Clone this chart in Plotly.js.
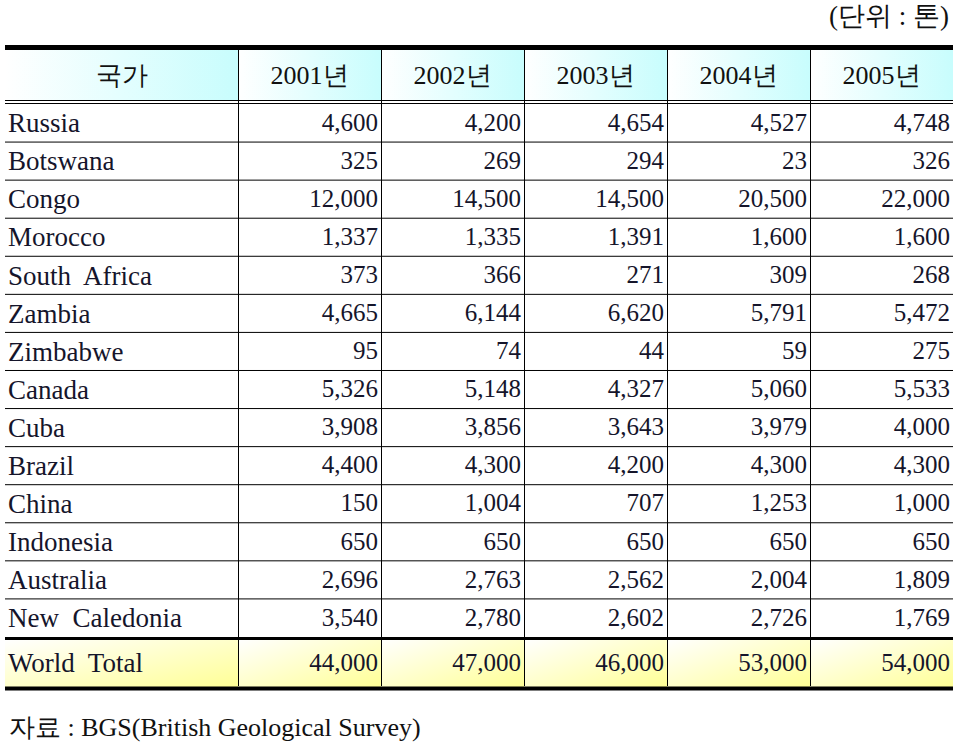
<!DOCTYPE html>
<html>
<head>
<meta charset="utf-8">
<script src="https://cdn.plot.ly/plotly-3.0.1.min.js"></script>
<style>html,body{margin:0;padding:0;background:#fff;}#chart{width:971px;height:747px;}</style>
</head>
<body>
<div id="chart"></div>
<script>
var headers = ["국가", "2001년", "2002년", "2003년", "2004년", "2005년"];
var countries = ["Russia", "Botswana", "Congo", "Morocco", "South  Africa", "Zambia", "Zimbabwe", "Canada", "Cuba", "Brazil", "China", "Indonesia", "Australia", "New  Caledonia"];
var y2001 = ["4,600", "325", "12,000", "1,337", "373", "4,665", "95", "5,326", "3,908", "4,400", "150", "650", "2,696", "3,540"];
var y2002 = ["4,200", "269", "14,500", "1,335", "366", "6,144", "74", "5,148", "3,856", "4,300", "1,004", "650", "2,763", "2,780"];
var y2003 = ["4,654", "294", "14,500", "1,391", "271", "6,620", "44", "4,327", "3,643", "4,200", "707", "650", "2,562", "2,602"];
var y2004 = ["4,527", "23", "20,500", "1,600", "309", "5,791", "59", "5,060", "3,979", "4,300", "1,253", "650", "2,004", "2,726"];
var y2005 = ["4,748", "326", "22,000", "1,600", "268", "5,472", "275", "5,533", "4,000", "4,300", "1,000", "650", "1,809", "1,769"];
var totalLabel = "World  Total";
var totals = ["44,000", "47,000", "46,000", "53,000", "54,000"];
var unitNote = "(단위 : 톤)";
var sourceNote = "자료 : BGS(British Geological Survey)";

var W = 971, H = 747;
var x0 = 5, x1 = 953;
function px(x){ return x / W; }
function py(y){ return 1 - y / H; }
var FONT = "Liberation Serif";
var colW = [233, 143, 143, 143, 143, 143];        // grid columns
var textColW = [243, 143, 143, 143, 143, 143];    // text columns (shifted to match text insets)
var tx0 = 0, tx1 = 958;
var align = ["left", "right", "right", "right", "right", "right"];
var sizes = [27, 25, 25, 25, 25, 25];
var CLEAR = "rgba(0,0,0,0)";
var TXT = "#15152b";
var rowH = 38.07;

function gradientRow(c1, c2, diag, hgt){
  var tot = colW.reduce(function(a,b){return a+b;}, 0);
  var defs = '<linearGradient id="g" x1="0" y1="0" x2="1" y2="' + (diag ? 1 : 0) + '">' +
    '<stop offset="0" stop-color="' + c1 + '"/><stop offset="1" stop-color="' + c2 + '"/></linearGradient>';
  var rects = '', acc = 0;
  colW.forEach(function(w){
    rects += '<rect x="' + acc + '" y="0" width="' + w + '" height="' + hgt + '" fill="url(#g)"/>';
    acc += w;
  });
  var svg = '<svg xmlns="http://www.w3.org/2000/svg" width="' + tot + '" height="' + hgt + '" viewBox="0 0 ' + tot + ' ' + hgt + '" preserveAspectRatio="none"><defs>' + defs + '</defs>' + rects + '</svg>';
  return 'data:image/svg+xml;base64,' + btoa(unescape(encodeURIComponent(svg)));
}

var emptyCells = {values: [[], [], [], [], [], []], height: 1, line: {color: CLEAR, width: 0}, fill: {color: CLEAR}};

var headRow = {
  type: "table",
  domain: {x: [px(x0), px(x1)], y: [py(120), py(56)]},
  columnwidth: colW,
  header: {
    values: headers,
    height: 46,
    align: "center",
    fill: {color: CLEAR},
    line: {color: CLEAR, width: 0},
    font: {family: FONT, size: [26, 26, 26, 26, 26, 26], color: "#111"}
  },
  cells: emptyCells
};

var main = {
  type: "table",
  domain: {x: [px(tx0), px(tx1)], y: [py(660), py(104)]},
  columnwidth: textColW,
  header: {
    values: ["", "", "", "", "", ""],
    height: 0.01,
    fill: {color: CLEAR},
    line: {color: CLEAR, width: 0},
    font: {family: FONT, size: 1, color: CLEAR}
  },
  cells: {
    values: [countries, y2001, y2002, y2003, y2004, y2005],
    height: rowH,
    align: align,
    fill: {color: CLEAR},
    line: {color: CLEAR, width: 0},
    font: {family: FONT, size: sizes, color: TXT}
  }
};

var totalRow = {
  type: "table",
  domain: {x: [px(tx0), px(tx1)], y: [py(710), py(644)]},
  columnwidth: textColW,
  header: {
    values: [totalLabel].concat(totals),
    height: 44,
    align: align,
    fill: {color: CLEAR},
    line: {color: CLEAR, width: 0},
    font: {family: FONT, size: sizes, color: TXT}
  },
  cells: emptyCells
};

function hline(y, w){ return {type: "line", xref: "paper", yref: "paper", x0: px(x0), x1: px(x1), y0: py(y), y1: py(y), line: {color: "#000", width: w}}; }
function vline(x, ya, yb, w){ return {type: "line", xref: "paper", yref: "paper", x0: px(x), x1: px(x), y0: py(ya), y1: py(yb), line: {color: "#000", width: w}}; }

var shapes = [];
var acc = x0;
for (var c = 0; c < colW.length - 1; c++) {
  acc += colW[c];
  shapes.push(vline(acc + 0.5, 50, 686, 1));
}
for (var r = 1; r < countries.length; r++) {
  shapes.push(hline(104 + rowH * r, 1));
}
shapes.push(hline(47.5, 5));
shapes.push(hline(100.5, 1));
shapes.push(hline(103.5, 1));
shapes.push(hline(638.5, 3));
shapes.push(hline(688.5, 4));

var images = [
  {source: gradientRow("#ffffff", "#c8fdfd", false, 50), xref: "paper", yref: "paper", x: px(x0), y: py(50), sizex: px(x1) - px(x0), sizey: 50 / H, sizing: "stretch", xanchor: "left", yanchor: "top", layer: "below"},
  {source: gradientRow("#ffffff", "#ffff95", true, 48), xref: "paper", yref: "paper", x: px(x0), y: py(639.5), sizex: px(x1) - px(x0), sizey: 48 / H, sizing: "stretch", xanchor: "left", yanchor: "top", layer: "below"}
];

var layout = {
  width: W, height: H,
  margin: {l: 0, r: 0, t: 0, b: 0},
  paper_bgcolor: "#fff",
  showlegend: false,
  shapes: shapes,
  images: images,
  annotations: [
    {xref: "paper", yref: "paper", x: px(951), y: py(16), xanchor: "right", yanchor: "middle", text: unitNote, showarrow: false, font: {family: FONT, size: 27, color: "#111"}},
    {xref: "paper", yref: "paper", x: px(7), y: py(727), xanchor: "left", yanchor: "middle", text: sourceNote, showarrow: false, font: {family: FONT, size: 26, color: "#111"}}
  ]
};

Plotly.newPlot("chart", [headRow, main, totalRow], layout, {displayModeBar: false, staticPlot: true});
</script>
</body>
</html>
